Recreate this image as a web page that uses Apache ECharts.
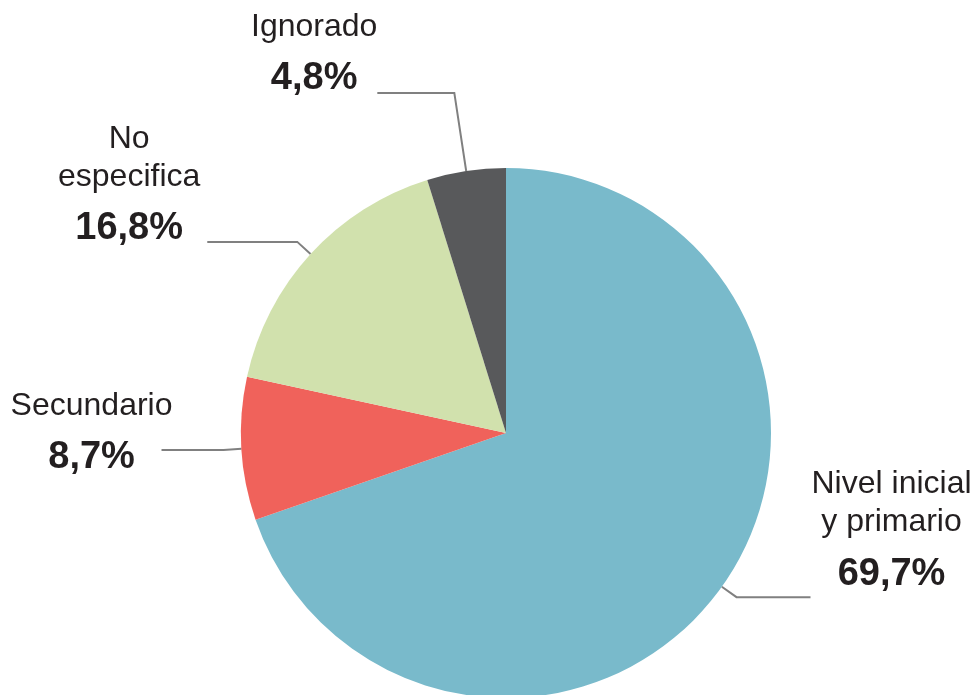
<!DOCTYPE html>
<html>
<head>
<meta charset="utf-8">
<script src="https://cdn.jsdelivr.net/npm/echarts@6/dist/echarts.min.js"></script>
<style>
html,body{margin:0;padding:0;background:#fff;}
#c{width:973px;height:695px;}
</style>
</head>
<body>
<div id="c"></div>
<script>
// ---- data ----
const categories = ['Nivel inicial\ny primario', 'Secundario', 'No\nespecifica', 'Ignorado'];
const values = [69.7, 8.7, 16.8, 4.8];

// ---- styling / label placement (not data) ----
const sliceColors = ['#79BACB', '#F0625B', '#D1E1AD', '#58595B'];
const labelLineLen = [18, 18, 18, 79];
const labelLineLen2 = [74, 62, 90, 77];
const labelDist = [1, -11, 7, 0];
const labelPadBottom = [122, 22, 102, 66];

const FONT = "'Liberation Sans', Arial, Helvetica, sans-serif";
const LINE_STYLE = { color: '#808080', width: 2 };

function fmt(v) { return v.toFixed(1).replace('.', ',') + '%'; }

const seriesData = categories.map((name, i) => ({
  name: name,
  value: values[i],
  itemStyle: { color: sliceColors[i] },
  labelLine: { show: true, length: labelLineLen[i], length2: labelLineLen2[i], lineStyle: LINE_STYLE },
  label: { distanceToLabelLine: labelDist[i], padding: [0, 0, labelPadBottom[i], 0] }
}));

const chart = echarts.init(document.getElementById('c'), null, { renderer: 'canvas' });
chart.setOption({
  animation: false,
  backgroundColor: '#ffffff',
  series: [{
    type: 'pie',
    center: [506, 433],
    radius: [0, 265],
    startAngle: 90,
    clockwise: true,
    avoidLabelOverlap: false,
    itemStyle: { borderWidth: 0 },
    emphasis: { disabled: true },
    label: {
      show: true,
      position: 'outside',
      fontFamily: FONT,
      color: '#231F20',
      formatter: function (p) {
        const lines = p.name.split('\n').map(s => '{n|' + s + '}');
        return lines.join('\n') + '\n{p|' + fmt(p.value) + '}';
      },
      rich: {
        n: { fontFamily: FONT, fontSize: 32, lineHeight: 38, color: '#231F20', align: 'center' },
        p: { fontFamily: FONT, fontSize: 38, fontWeight: 'bold', lineHeight: 66, color: '#231F20', align: 'center' }
      }
    },
    labelLine: {
      show: true,
      smooth: false,
      lineStyle: LINE_STYLE
    },
    data: seriesData
  }]
});
</script>
</body>
</html>
